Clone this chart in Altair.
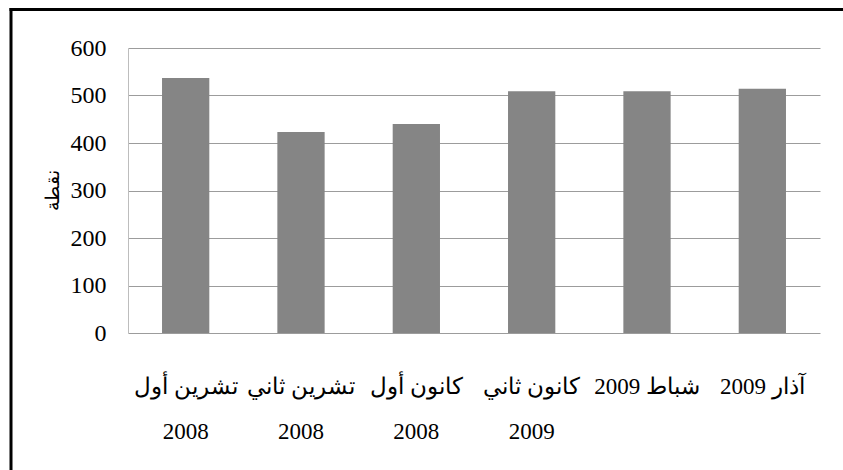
import altair as alt
import pandas as pd

categories = [
    "تشرين أول\n2008",
    "تشرين ثاني\n2008",
    "كانون أول\n2008",
    "كانون ثاني\n2009",
    "شباط 2009",
    "آذار 2009",
]
values = [537, 423, 440, 509, 509, 514]
y_ticks = [0, 100, 200, 300, 400, 500, 600]
y_title = "نقطة"

df = pd.DataFrame({"month": categories, "value": values})

FONT = "Liberation Serif"

bars = alt.Chart(df).mark_bar(color="#858585").encode(
    x=alt.X(
        "month:N",
        sort=categories,
        scale=alt.Scale(paddingInner=0.59, paddingOuter=0.295),
        axis=alt.Axis(
            title=None,
            labelAngle=0,
            labelExpr="split(datum.label, '\\n')",
            labelFont=FONT,
            labelFontSize=23,
            labelLineHeight=45,
            labelColor="black",
            labelPadding=42,
            ticks=False,
            domain=False,
            labelBaseline="top",
        ),
    ),
    y=alt.Y(
        "value:Q",
        scale=alt.Scale(domain=[0, 600], nice=False),
        axis=alt.Axis(
            values=y_ticks,
            title=y_title,
            titleFont=FONT,
            titleFontSize=19,
            titleFontWeight="normal",
            titleColor="black",
            titleAngle=270,
            titleX=-76,
            titleY=142,
            titleAlign="center",
            titleBaseline="middle",
            labelFont=FONT,
            labelFontSize=24,
            labelColor="black",
            labelPadding=22,
            ticks=False,
            domainColor="#bdbdbd",
            domainWidth=1,
            gridColor="#9c9c9c",
            gridWidth=1,
        ),
    ),
)

one = pd.DataFrame({"a": [0]})
frame_left = alt.Chart(one).mark_rule(color="black", strokeWidth=3, clip=False).encode(
    x=alt.value(-117),
    y=alt.value(-40),
    y2=alt.value(700),
)
frame_top = alt.Chart(one).mark_rule(color="black", strokeWidth=3, clip=False).encode(
    x=alt.value(-118.5),
    x2=alt.value(900),
    y=alt.value(-38.5),
)

chart = alt.layer(bars, frame_left, frame_top).properties(
    width=692,
    height=285,
    autosize=alt.AutoSizeParams(type="none"),
    padding={"left": 128, "top": 48, "right": 23, "bottom": 137},
    background="white",
).configure_view(strokeWidth=0)

chart.save("out.html", embed_options={"renderer": "svg", "actions": False})
